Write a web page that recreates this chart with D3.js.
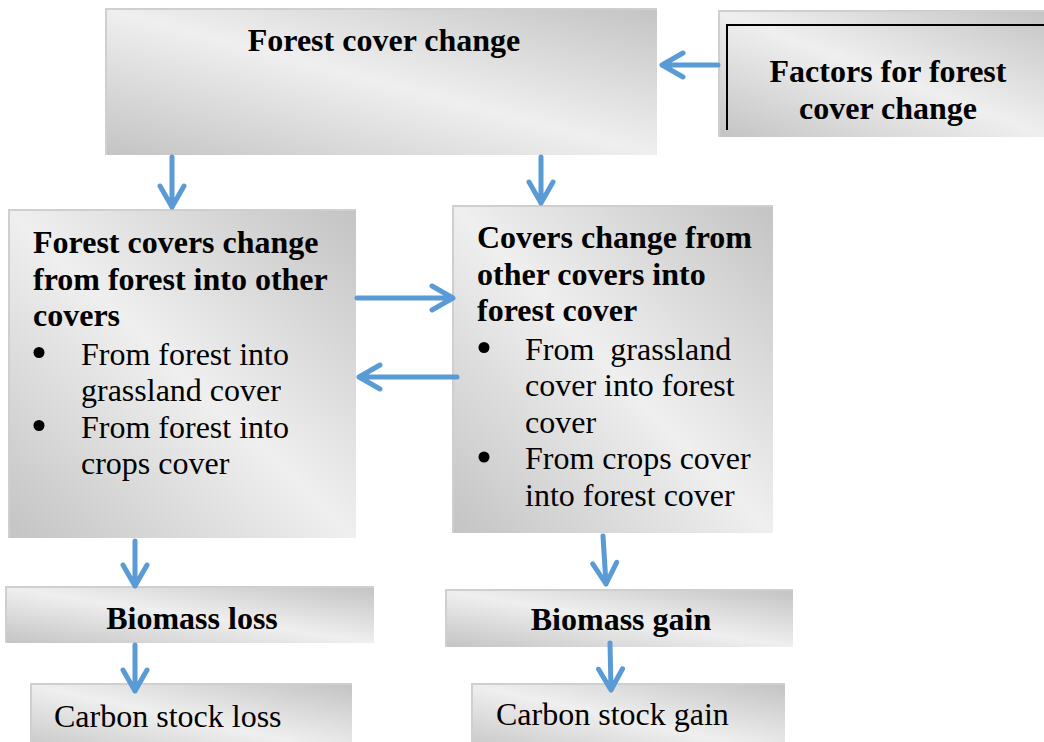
<!DOCTYPE html>
<html lang="en">
<head>
<meta charset="utf-8">
<title>Forest cover change</title>
<script src="https://d3js.org/d3.v7.min.js"></script>
<style>
  body { margin: 0; background: #fff; }
  text { font-family: "Liberation Serif", "Times New Roman", serif; fill: #000; white-space: pre; }
</style>
</head>
<body>
<div id="chart"></div>
<script>
// box names and their texts
var boxIds = ["top", "factors", "lossSide", "gainSide", "biomassLoss", "biomassGain", "carbonLoss", "carbonGain"];
var boxTitles = [
  ["Forest cover change"],
  ["Factors for forest", "cover change"],
  ["Forest covers change", "from forest into other", "covers"],
  ["Covers change from", "other covers into", "forest cover"],
  ["Biomass loss"],
  ["Biomass gain"],
  [],
  []
];
var boxPlain = [[], [], [], [], [], [], ["Carbon stock loss"], ["Carbon stock gain"]];
var boxBullets = [
  [], [],
  [["From forest into", "grassland cover"], ["From forest into", "crops cover"]],
  [["From  grassland", "cover into forest", "cover"], ["From crops cover", "into forest cover"]],
  [], [], [], []
];
// arrows: from -> to
var linkFrom = ["factors", "top", "top", "lossSide", "gainSide", "lossSide", "gainSide", "biomassLoss", "biomassGain"];
var linkTo   = ["top", "lossSide", "gainSide", "gainSide", "lossSide", "biomassLoss", "biomassGain", "carbonLoss", "carbonGain"];

// ---- layout (pixel positions of the boxes and arrows) ----
var layout = {
  top:         {x: 107, y: 10,  w: 550, h: 145, align: "middle", tx: 384, ty: 51},
  factors:     {x: 720, y: 12,  w: 330, h: 125, align: "middle", tx: 888, ty: 82, frame: true},
  lossSide:    {x: 10,  y: 211, w: 346, h: 327, align: "start",  tx: 33,  ty: 253, bx: 39, btx: 81},
  gainSide:    {x: 454, y: 207, w: 319, h: 326, align: "start",  tx: 477, ty: 248, bx: 484, btx: 525},
  biomassLoss: {x: 7,   y: 588, w: 367, h: 55,  align: "middle", tx: 192, ty: 629},
  biomassGain: {x: 447, y: 591, w: 346, h: 56,  align: "middle", tx: 621, ty: 630},
  carbonLoss:  {x: 32,  y: 685, w: 320, h: 70,  align: "start",  tx: 54,  ty: 727},
  carbonGain:  {x: 473, y: 685, w: 312, h: 70,  align: "start",  tx: 496, ty: 725}
};
var arrowPos = [
  [[718, 65], [662, 65]],
  [[172, 157], [172, 207]],
  [[541, 157], [541, 203]],
  [[357, 298], [453, 298]],
  [[457, 377], [359, 377]],
  [[135, 541], [135, 586]],
  [[603, 536], [606, 584]],
  [[135, 645], [135, 691]],
  [[610, 643], [611, 690]]
];
var lineH = 36.5;
var fontSize = 32;

var width = 1044, height = 742;
var svg = d3.select("#chart").append("svg")
  .attr("width", width)
  .attr("height", height);

var defs = svg.append("defs");
var grad = defs.append("linearGradient")
  .attr("id", "boxFill")
  .attr("x1", 1).attr("y1", 0)
  .attr("x2", 0).attr("y2", 1);
grad.append("stop").attr("offset", "0%").attr("stop-color", "#c4c4c4");
grad.append("stop").attr("offset", "50%").attr("stop-color", "#efefef");
grad.append("stop").attr("offset", "100%").attr("stop-color", "#c4c4c4");

var boxes = boxIds.map(function(id, i) {
  return {id: id, titles: boxTitles[i], plain: boxPlain[i], bullets: boxBullets[i], pos: layout[id]};
});

var g = svg.selectAll("g.box")
  .data(boxes)
  .join("g")
  .attr("class", "box");

// soft edge behind each box
g.append("rect")
  .attr("x", function(d) { return d.pos.x - 2; })
  .attr("y", function(d) { return d.pos.y - 2; })
  .attr("width", function(d) { return d.pos.w + 2; })
  .attr("height", function(d) { return d.pos.h + 2; })
  .attr("fill", "#cfcfcf");

g.append("rect")
  .attr("x", function(d) { return d.pos.x; })
  .attr("y", function(d) { return d.pos.y; })
  .attr("width", function(d) { return d.pos.w; })
  .attr("height", function(d) { return d.pos.h; })
  .attr("fill", "url(#boxFill)");

// the inner black frame of the factors box
g.filter(function(d) { return d.pos.frame; })
  .append("path")
  .attr("d", function(d) {
    return "M" + (d.pos.x + 7) + "," + (d.pos.y + 118) +
           "V" + (d.pos.y + 13) + "H" + width;
  })
  .attr("fill", "none")
  .attr("stroke", "#000")
  .attr("stroke-width", 2);

g.each(function(d) {
  var sel = d3.select(this);
  var line = 0;
  d.titles.forEach(function(t) {
    sel.append("text")
      .attr("x", d.pos.tx)
      .attr("y", d.pos.ty + line * lineH)
      .attr("text-anchor", d.pos.align)
      .style("font-size", fontSize + "px")
      .style("font-weight", "bold")
      .text(t);
    line++;
  });
  d.plain.forEach(function(t) {
    sel.append("text")
      .attr("x", d.pos.tx)
      .attr("y", d.pos.ty + line * lineH)
      .attr("text-anchor", d.pos.align)
      .style("font-size", fontSize + "px")
      .text(t);
    line++;
  });
  d.bullets.forEach(function(b) {
    sel.append("circle")
      .attr("cx", d.pos.bx)
      .attr("cy", d.pos.ty + line * lineH - 10)
      .attr("r", 5.5)
      .attr("fill", "#000");
    b.forEach(function(t) {
      sel.append("text")
        .attr("x", d.pos.btx)
        .attr("y", d.pos.ty + line * lineH + 2)
        .style("font-size", fontSize + "px")
        .text(t);
      line++;
    });
  });
});

// arrows
var links = linkFrom.map(function(f, i) { return {from: f, to: linkTo[i], pts: arrowPos[i]}; });

function arrowPath(d) {
  var a = d.pts[0], b = d.pts[1];
  var ang = Math.atan2(b[1] - a[1], b[0] - a[0]);
  var back = 21, half = 12;
  var cx = b[0] - back * Math.cos(ang), cy = b[1] - back * Math.sin(ang);
  var px = -Math.sin(ang) * half, py = Math.cos(ang) * half;
  return "M" + a[0] + "," + a[1] + "L" + b[0] + "," + b[1] +
         "M" + (cx + px) + "," + (cy + py) + "L" + b[0] + "," + b[1] + "L" + (cx - px) + "," + (cy - py);
}

svg.selectAll("path.arrow")
  .data(links)
  .join("path")
  .attr("class", "arrow")
  .attr("d", arrowPath)
  .attr("fill", "none")
  .attr("stroke", "#5b9bd5")
  .attr("stroke-width", 5)
  .attr("stroke-linecap", "round")
  .attr("stroke-linejoin", "round");
</script>
</body>
</html>
